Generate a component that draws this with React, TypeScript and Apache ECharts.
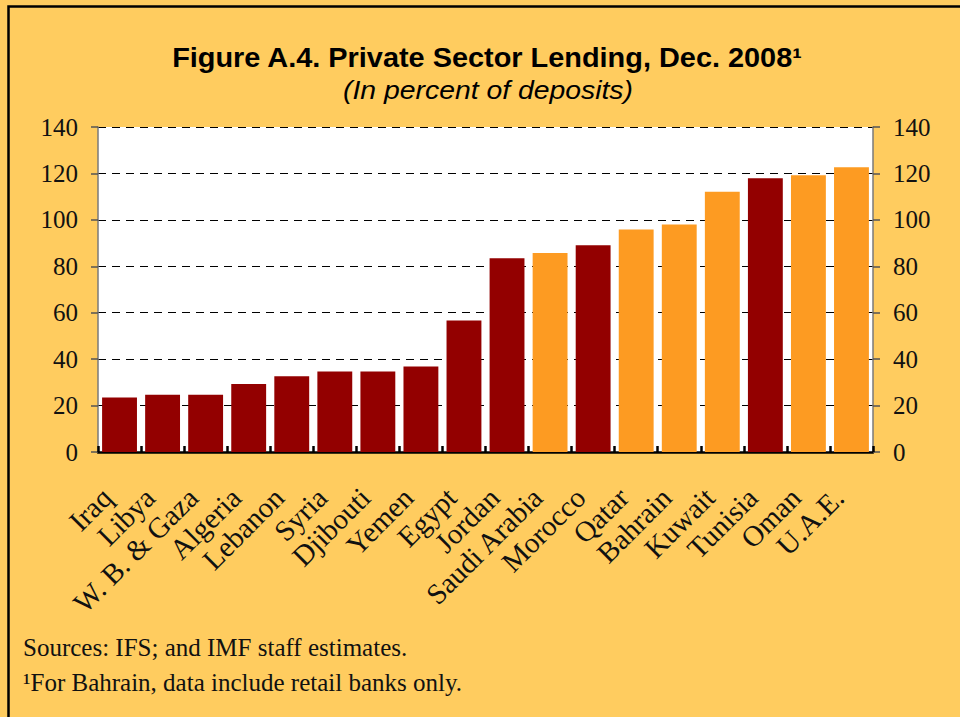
import React, { useEffect, useRef } from "react";
import * as echarts from "echarts";

const categories = [
  "Iraq", "Libya", "W. B. & Gaza", "Algeria", "Lebanon", "Syria", "Djibouti", "Yemen", "Egypt",
  "Jordan", "Saudi Arabia", "Morocco", "Qatar", "Bahrain", "Kuwait", "Tunisia", "Oman", "U.A.E.",
];
const values = [23.5, 24.7, 24.7, 29.3, 32.6, 34.7, 34.7, 36.8, 56.6, 83.5, 85.7, 89.1, 95.9, 98.0, 112.1, 117.9, 119.2, 122.7];
const gccCountries = ["Saudi Arabia", "Qatar", "Bahrain", "Kuwait", "Oman", "U.A.E."];
const yTicks = [0, 20, 40, 60, 80, 100, 120, 140];

const titleText = "Figure A.4. Private Sector Lending, Dec. 2008\u00B9";
const subtitleText = "(In percent of deposits)";
const footnotes = ["Sources: IFS; and IMF staff estimates.", "\u00B9For Bahrain, data include retail banks only."];

const DARK_RED = "#930000";
const ORANGE = "#FD9B22";
const SERIF = "'Liberation Serif', 'DejaVu Serif', serif";
const SANS = "'Liberation Sans', Arial, sans-serif";

function measure(text: string, font: string): number {
  const c = document.createElement("canvas");
  const ctx = c.getContext("2d");
  if (!ctx) return 1;
  ctx.font = font;
  return ctx.measureText(text).width || 1;
}

export default function App() {
  const ref = useRef<HTMLDivElement>(null);
  useEffect(() => {
    if (!ref.current) return;
    const chart = echarts.init(ref.current, null, { renderer: "svg" });
    const yMin = yTicks[0];
    const yMax = yTicks[yTicks.length - 1];
    const yInterval = yTicks[1] - yTicks[0];
    const titleSize = 28;
    const subSize = 26;
    const titleScale = 631 / measure(titleText, `bold ${titleSize}px ${SANS}`);
    const subScale = 290 / measure(subtitleText, `italic ${subSize}px ${SANS}`);
    const yAxisCommon = {
      type: "value" as const,
      min: yMin,
      max: yMax,
      interval: yInterval,
      axisLine: { show: true, lineStyle: { color: "#7a7a7a", width: 1.5 } },
      axisTick: { show: true, inside: false, length: 7, lineStyle: { color: "#555", width: 1.5 } },
      axisLabel: { color: "#111", fontFamily: SERIF, fontSize: 25, margin: 20 },
    };
    chart.setOption({
      animation: false,
      backgroundColor: "#FFCC5F",
      grid: {
        left: 98, right: 87, top: 127, bottom: 265,
        show: true, backgroundColor: "#ffffff", borderWidth: 0, containLabel: false,
      },
      graphic: [
        {
          type: "rect", left: 6, top: 4, z: 100,
          shape: { x: 0, y: 0, width: 1000, height: 760 },
          style: { fill: "none", stroke: "#000", lineWidth: 2.5 },
        },
        {
          type: "text", x: 487, y: 57, scaleX: titleScale,
          style: { text: titleText, fontFamily: SANS, fontWeight: "bold", fontSize: titleSize, fill: "#000", align: "center", verticalAlign: "middle" },
        },
        {
          type: "text", x: 488, y: 90, scaleX: subScale,
          style: { text: subtitleText, fontFamily: SANS, fontStyle: "italic", fontSize: subSize, fill: "#000", align: "center", verticalAlign: "middle" },
        },
        {
          type: "text", x: 23, y: 647,
          style: { text: footnotes[0], fontFamily: SERIF, fontSize: 25, fill: "#111", align: "left", verticalAlign: "middle" },
        },
        {
          type: "text", x: 23, y: 682,
          style: { text: footnotes[1], fontFamily: SERIF, fontSize: 25, fill: "#111", align: "left", verticalAlign: "middle" },
        },
      ],
      xAxis: {
        type: "category",
        data: categories,
        boundaryGap: true,
        axisLine: { show: true, lineStyle: { color: "#000", width: 2.5 } },
        axisTick: { show: true, inside: true, length: 6, alignWithLabel: false, lineStyle: { color: "#000", width: 2.5 } },
        axisLabel: { rotate: 45, interval: 0, color: "#111", fontFamily: SERIF, fontSize: 29, margin: 28, padding: [0, 18, 0, 0] },
        splitLine: { show: false },
      },
      yAxis: [
        {
          ...yAxisCommon,
          position: "left",
          splitLine: { show: true, lineStyle: { color: "#000", width: 1, type: [8, 6] } },
        },
        {
          ...yAxisCommon,
          position: "right",
          splitLine: { show: false },
        },
      ],
      series: [
        {
          type: "bar",
          yAxisIndex: 0,
          barCategoryGap: "19%",
          data: values.map((v, i) => ({
            value: v,
            itemStyle: { color: gccCountries.includes(categories[i]) ? ORANGE : DARK_RED },
          })),
        },
      ],
    });
    return () => chart.dispose();
  }, []);
  return <div ref={ref} style={{ position: "fixed", left: 0, top: 0, width: 960, height: 717 }} />;
}
